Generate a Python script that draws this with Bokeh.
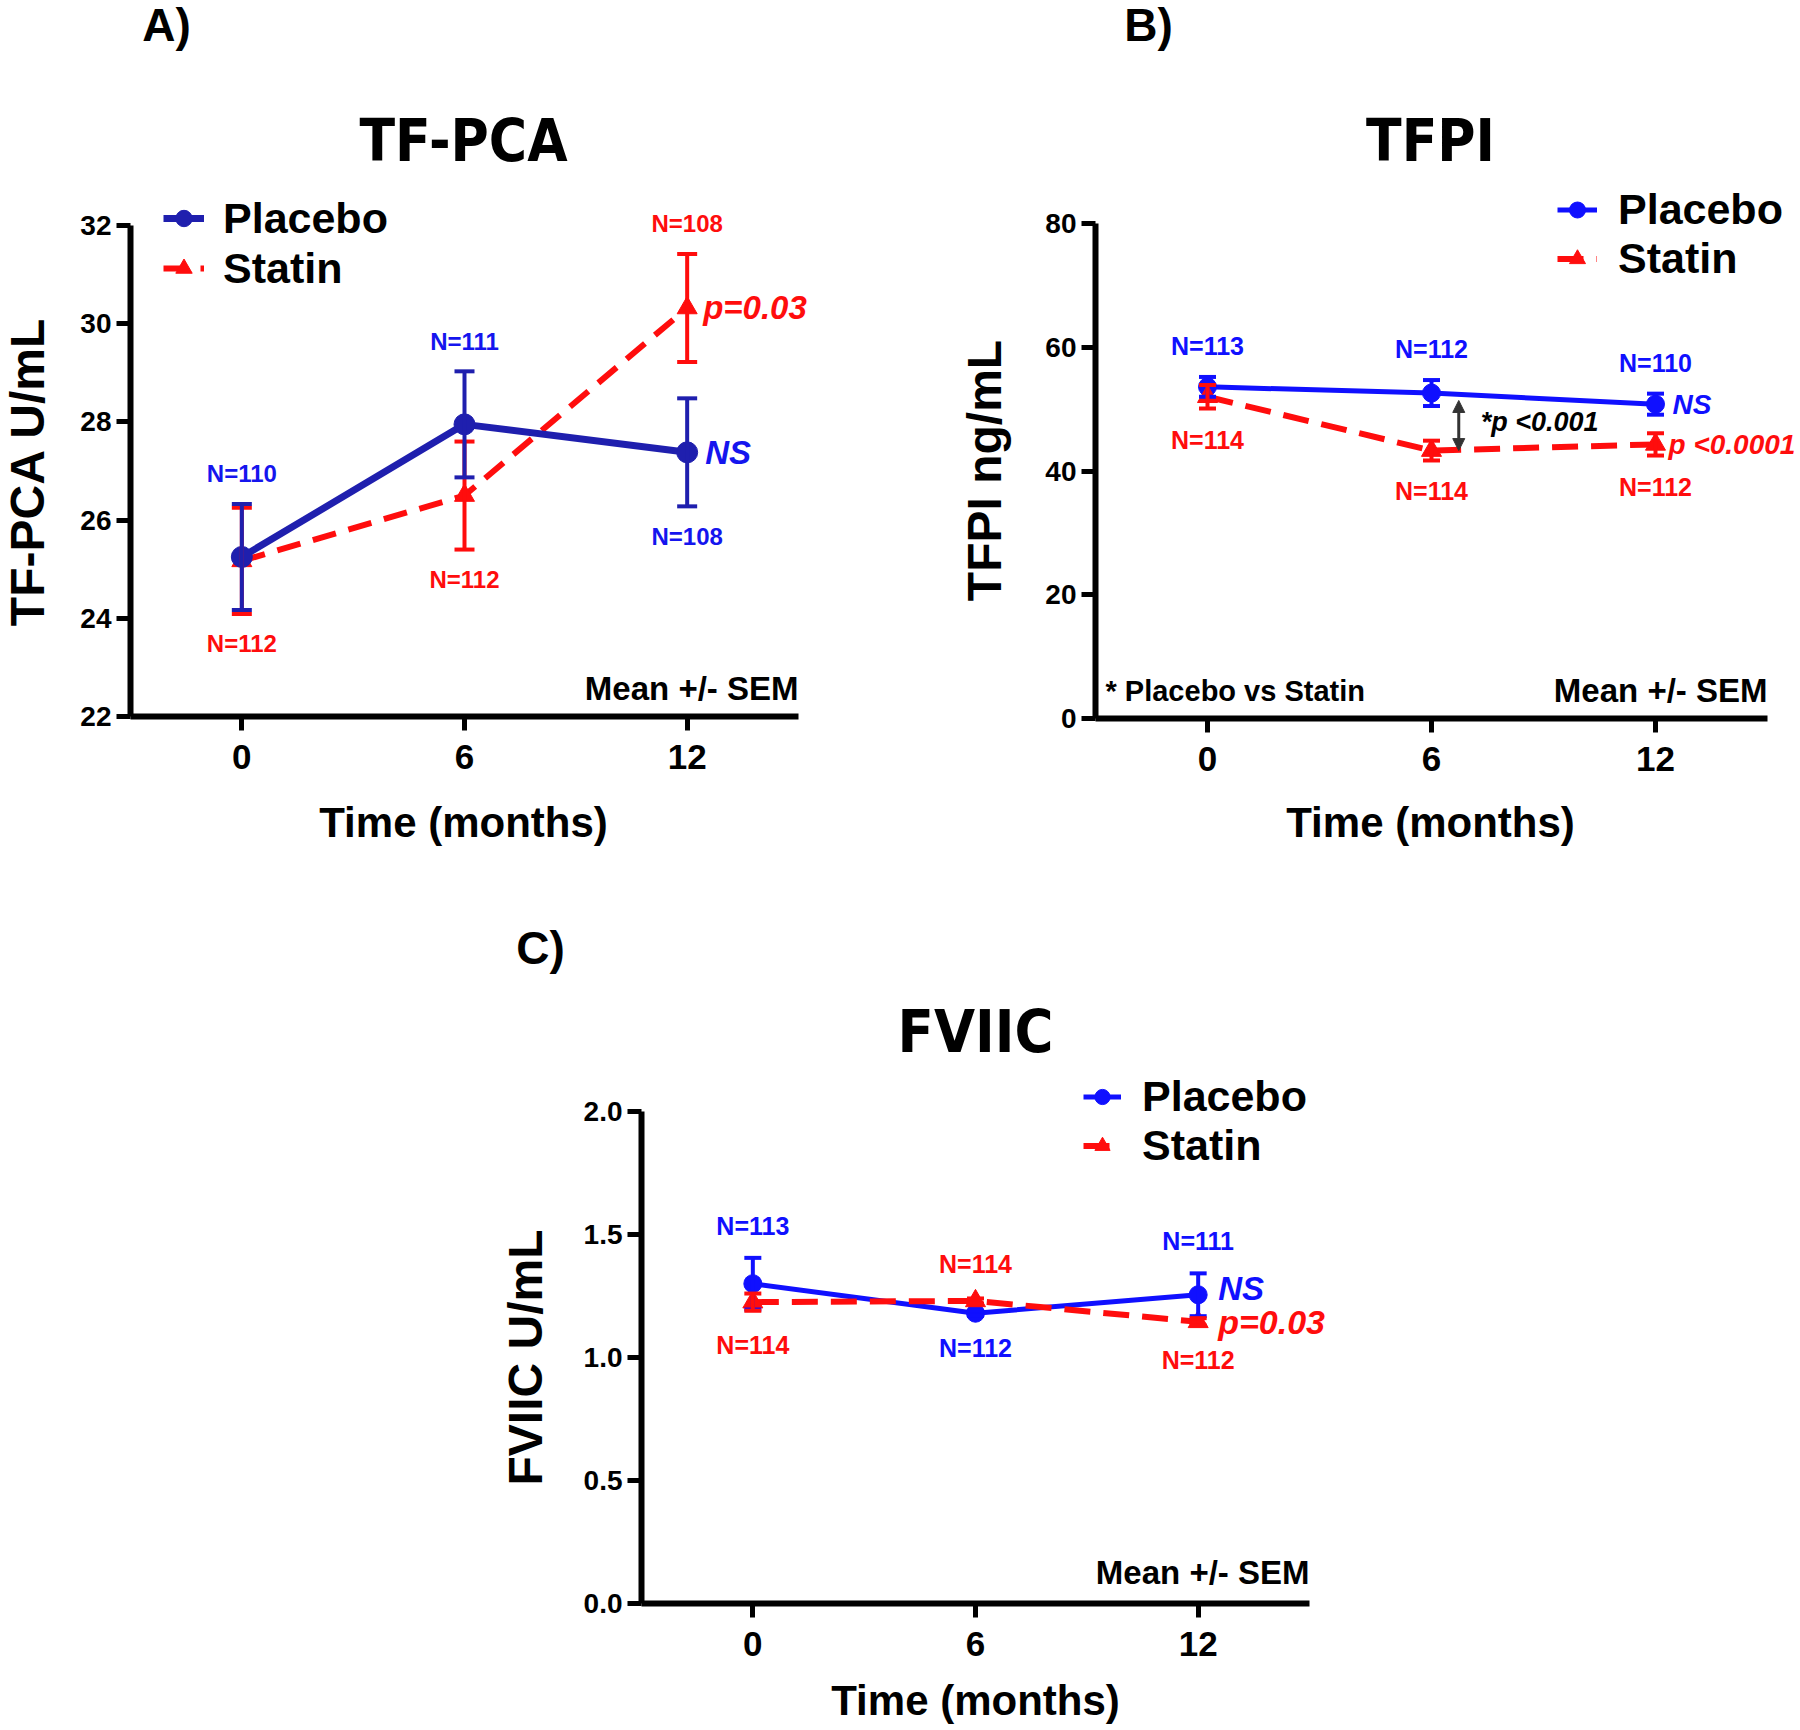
import numpy as np
from bokeh.plotting import figure
from bokeh.models import (Range1d, FixedTicker, NumeralTickFormatter, ColumnDataSource, LinearAxis,
                          Whisker, TeeHead, Label, Legend, LegendItem, Arrow, NormalHead)
from bokeh.embed import file_html
from bokeh.resources import INLINE

# ---------------- data ----------------
time_months = [0, 6, 12]
time_ticks = [0, 6, 12]

tfpca_placebo_mean = [25.25, 27.95, 27.38]
tfpca_placebo_sem = [1.08, 1.08, 1.10]
tfpca_statin_mean = [25.17, 26.50, 30.32]
tfpca_statin_sem = [1.08, 1.10, 1.10]
tfpca_placebo_n = [110, 111, 108]
tfpca_statin_n = [112, 112, 108]
tfpca_yticks = [22, 24, 26, 28, 30, 32]

tfpi_placebo_mean = [53.6, 52.6, 50.8]
tfpi_placebo_sem = [1.6, 2.1, 1.7]
tfpi_statin_mean = [52.0, 43.3, 44.3]
tfpi_statin_sem = [1.9, 1.6, 1.8]
tfpi_placebo_n = [113, 112, 110]
tfpi_statin_n = [114, 114, 112]
tfpi_yticks = [0, 20, 40, 60, 80]

fviic_placebo_mean = [1.30, 1.18, 1.255]
fviic_placebo_sem = [0.105, 0.01, 0.087]
fviic_statin_mean = [1.225, 1.23, 1.145]
fviic_statin_sem = [0.035, 0.01, 0.015]
fviic_placebo_n = [113, 112, 111]
fviic_statin_n = [114, 114, 112]
fviic_yticks = [0.0, 0.5, 1.0, 1.5, 2.0]

# ---------------- style / layout ----------------
FONT = "Liberation Sans"
TITLE_FONT = "DejaVu Sans Condensed, Liberation Sans"
RED = "#ff0d0d"
BLUE = "#1010ff"
NAVY = "#1f1fae"
NAVY_TXT = "#1515ee"
W, H = 1800, 1730
XLIM = (-3, 15)

# pixel anchors of each panel's axes: x=-3 / x=15 pixels, y-start / y-end pixels
PANEL_GEOM = {
    "A": dict(xpx=(130, 798), ypx=(716, 225), yr=(22, 32)),
    "B": dict(xpx=(1095, 1767), ypx=(718, 223), yr=(0, 80)),
    "C": dict(xpx=(641, 1309), ypx=(1603, 1111), yr=(0, 2)),
}

p = figure(width=W, height=H, x_range=Range1d(0, W), y_range=Range1d(H, 0),
           x_axis_type=None, y_axis_type=None, output_backend="svg", toolbar_location=None,
           min_border_left=0, min_border_right=0, min_border_top=0, min_border_bottom=0)
p.outline_line_color = None
p.background_fill_color = "white"
p.border_fill_color = "white"

for nm, g in PANEL_GEOM.items():
    x0, x1 = g["xpx"]
    kx = (XLIM[1] - XLIM[0]) / (x1 - x0)
    p.extra_x_ranges[nm] = Range1d(XLIM[0] - x0 * kx, XLIM[0] + (W - x0) * kx)
    y0, y1 = g["ypx"]
    ys, ye = g["yr"]
    ky = (ye - ys) / (y0 - y1)
    p.extra_y_ranges[nm] = Range1d(ys - (H - y0) * ky, ys + y0 * ky)


def style_axis(ax, label_size):
    ax.axis_line_width = 6
    ax.axis_line_color = "black"
    ax.major_tick_line_width = 5
    ax.major_tick_line_color = "black"
    ax.major_tick_out = 14
    ax.major_tick_in = 0
    ax.minor_tick_line_color = None
    ax.major_label_text_font = FONT
    ax.major_label_text_font_style = "bold"
    ax.major_label_text_color = "black"
    ax.major_label_text_font_size = label_size


def add_axes(nm, yticks, yfmt=None):
    yr = PANEL_GEOM[nm]["yr"]
    xax = LinearAxis(x_range_name=nm, y_range_name=nm, fixed_location=yr[0], bounds=XLIM,
                     ticker=FixedTicker(ticks=time_ticks))
    style_axis(xax, "35px")
    xax.major_label_standoff = 14
    p.add_layout(xax, "below")
    yax = LinearAxis(x_range_name=nm, y_range_name=nm, fixed_location=XLIM[0], bounds=yr,
                     ticker=FixedTicker(ticks=yticks))
    style_axis(yax, "28px")
    yax.major_label_standoff = 5
    if yfmt:
        yax.formatter = NumeralTickFormatter(format=yfmt)
    p.add_layout(yax, "left")


def add_series(nm, mean, sem, color, dash, marker, msize, lw, cap):
    mean = np.array(mean, dtype=float)
    sem = np.array(sem, dtype=float)
    src = ColumnDataSource(dict(x=time_months, y=mean, upper=mean + sem, lower=mean - sem))
    w = Whisker(base="x", upper="upper", lower="lower", source=src, dimension="height",
                x_range_name=nm, y_range_name=nm,
                line_color=color, line_width=4, level="glyph",
                upper_head=TeeHead(size=cap, line_color=color, line_width=4),
                lower_head=TeeHead(size=cap, line_color=color, line_width=4))
    p.add_layout(w)
    ln = p.line("x", "y", source=src, line_color=color, line_width=lw, line_dash=dash,
                x_range_name=nm, y_range_name=nm)
    sc = p.scatter("x", "y", source=src, marker=marker, size=msize, fill_color=color,
                   line_color=color, x_range_name=nm, y_range_name=nm)
    return ln, sc


def add_text(x, y, text, color="black", size="33px", style="bold", align="center", font=FONT,
             xo=0, yo=0, nm="default", angle=0.0):
    p.add_layout(Label(x=x, y=y, x_offset=xo, y_offset=yo, text=text, text_align=align,
                       text_baseline="middle", text_font=font, text_font_style=style,
                       text_font_size=size, text_color=color, angle=angle,
                       x_range_name=nm, y_range_name=nm))


def add_n_labels(nm, ns, mean, sem, sides, color, offset, size="25px"):
    for t, n, m, s, side in zip(time_months, ns, mean, sem, sides):
        if side == "above":
            y, off = m + s, offset
        else:
            y, off = m - s, -offset
        add_text(t, y, f"N={n}", color, size, yo=off, nm=nm)


def add_legend(items, loc, gw, gh, standoff):
    lg = Legend(items=[LegendItem(label=lab, renderers=list(r)) for lab, r in items],
                location=loc, orientation="vertical", glyph_width=gw, glyph_height=gh,
                label_height=gh, label_standoff=standoff, spacing=0, padding=0, margin=0,
                label_text_font=FONT, label_text_font_style="bold", label_text_font_size="43px",
                label_text_color="black", border_line_color=None, background_fill_alpha=0)
    p.add_layout(lg)


# ---------------- Panel A : TF-PCA ----------------
add_axes("A", tfpca_yticks)
lsA, ssA = add_series("A", tfpca_statin_mean, tfpca_statin_sem, RED, "24 13", "triangle", 20, 6, 20)
lpA, spA = add_series("A", tfpca_placebo_mean, tfpca_placebo_sem, NAVY, "solid", "circle", 21, 7, 20)
add_n_labels("A", tfpca_placebo_n, tfpca_placebo_mean, tfpca_placebo_sem, ["above", "above", "below"], NAVY_TXT, 30, "24px")
add_n_labels("A", tfpca_statin_n, tfpca_statin_mean, tfpca_statin_sem, ["below", "below", "above"], RED, 30, "24px")
add_text(12, tfpca_placebo_mean[2], "NS", NAVY_TXT, "33px", "bold italic", "left", xo=18, nm="A")
add_text(12, tfpca_statin_mean[2], "p=0.03", RED, "33px", "bold italic", "left", xo=16, nm="A")
add_text(15, 22, "Mean +/- SEM", size="33px", align="right", yo=28, nm="A")
add_text(463, 140, "TF-PCA", size="58px", font=TITLE_FONT)
add_text(166, 24, "A)", size="46px")
add_text(27, 471, "TF-PCA U/mL", size="48px", angle=np.pi / 2)
add_text(463, 822, "Time (months)", size="42px")
add_legend([("Placebo", (lpA, spA)), ("Statin", (lsA, ssA))], (163, H - 293), 41, 50, 19)

# ---------------- Panel B : TFPI ----------------
add_axes("B", tfpi_yticks)
lpB, spB = add_series("B", tfpi_placebo_mean, tfpi_placebo_sem, BLUE, "solid", "circle", 18, 5, 17)
lsB, ssB = add_series("B", tfpi_statin_mean, tfpi_statin_sem, RED, "26 13", "triangle", 20, 6, 17)
add_n_labels("B", tfpi_placebo_n, tfpi_placebo_mean, tfpi_placebo_sem, ["above"] * 3, BLUE, 31)
add_n_labels("B", tfpi_statin_n, tfpi_statin_mean, tfpi_statin_sem, ["below"] * 3, RED, 31)
add_text(12, tfpi_placebo_mean[2], "NS", BLUE, "28px", "bold italic", "left", xo=17, nm="B")
add_text(12, tfpi_statin_mean[2], "p <0.0001", RED, "28px", "bold italic", "left", xo=13, nm="B")
arrow_x = time_months[1] + 0.73
p.add_layout(Arrow(x_start=arrow_x, y_start=tfpi_statin_mean[1],
                   x_end=arrow_x, y_end=tfpi_placebo_mean[1] - 1.2,
                   x_range_name="B", y_range_name="B",
                   line_color="#333333", line_width=3,
                   start=NormalHead(size=12, fill_color="#333333", line_color="#333333"),
                   end=NormalHead(size=12, fill_color="#333333", line_color="#333333")))
add_text(arrow_x, (tfpi_statin_mean[1] + tfpi_placebo_mean[1]) / 2, "*p <0.001", "black", "27px",
         "bold italic", "left", xo=22, nm="B")
add_text(-3, 0, "* Placebo vs Statin", size="29px", align="left", xo=10, yo=28, nm="B")
add_text(15, 0, "Mean +/- SEM", size="33px", align="right", yo=28, nm="B")
add_text(1430, 140, "TFPI", size="58px", font=TITLE_FONT)
add_text(1148, 24, "B)", size="46px")
add_text(984, 470, "TFPI ng/mL", size="48px", angle=np.pi / 2)
add_text(1430, 822, "Time (months)", size="42px")
add_legend([("Placebo", (lpB, spB)), ("Statin", (lsB, ssB))], (1557, H - 283), 40, 47, 21)

# ---------------- Panel C : FVIIC ----------------
add_axes("C", fviic_yticks, "0.0")
lpC, spC = add_series("C", fviic_placebo_mean, fviic_placebo_sem, BLUE, "solid", "circle", 18, 5, 17)
lsC, ssC = add_series("C", fviic_statin_mean, fviic_statin_sem, RED, "26 13", "triangle", 20, 6, 17)
add_n_labels("C", fviic_placebo_n, fviic_placebo_mean, fviic_placebo_sem, ["above", "below", "above"], BLUE, 32)
add_n_labels("C", fviic_statin_n, fviic_statin_mean, fviic_statin_sem, ["below", "above", "below"], RED, 34)
add_text(12, fviic_placebo_mean[2], "NS", BLUE, "33px", "bold italic", "left", xo=20, yo=6, nm="C")
add_text(12, fviic_statin_mean[2], "p=0.03", RED, "34px", "bold italic", "left", xo=20, nm="C")
add_text(15, 0, "Mean +/- SEM", size="33px", align="right", yo=31, nm="C")
add_text(975, 1031, "FVIIC", size="59px", font=TITLE_FONT)
add_text(540, 947, "C)", size="46px")
add_text(525, 1357, "FVIIC U/mL", size="48px", angle=np.pi / 2)
add_text(975, 1700, "Time (months)", size="42px")
add_legend([("Placebo", (lpC, spC)), ("Statin", (lsC, ssC))], (1083, H - 1170), 38, 47, 21)

open("out.html", "w").write(file_html(p, INLINE))
